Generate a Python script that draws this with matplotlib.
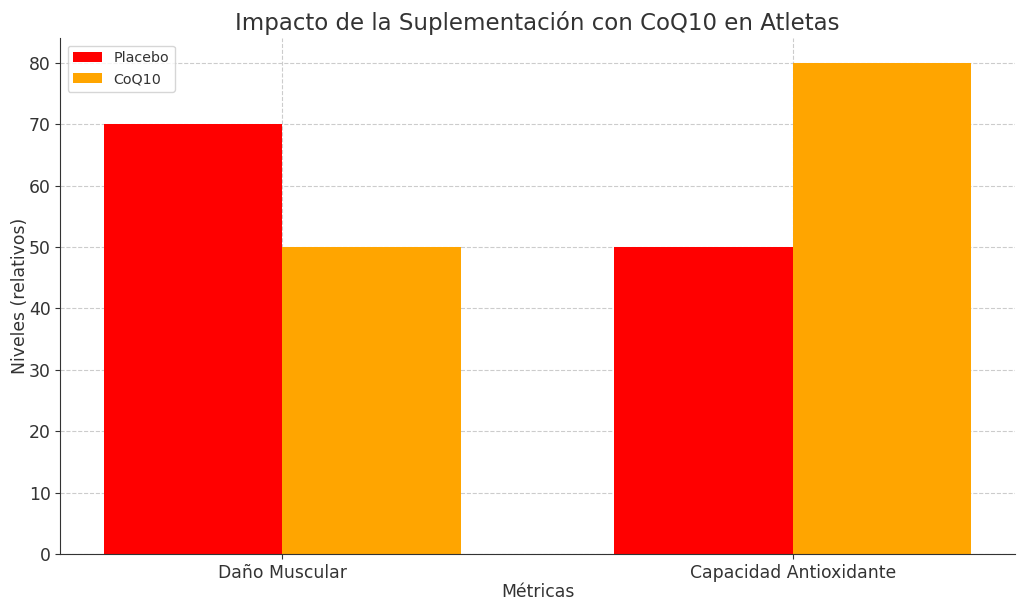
import matplotlib
matplotlib.use("Agg")
import matplotlib.pyplot as plt
import numpy as np

categories = ["Daño Muscular", "Capacidad Antioxidante"]
placebo = [70, 50]
coq10 = [50, 80]

plt.rcParams['font.family'] = ['DejaVu Sans']
text_color = '#333333'

fig, ax = plt.subplots(figsize=(10.24, 6.1), dpi=100)
x = np.arange(len(categories))
w = 0.35
ax.bar(x - w/2, placebo, w, color='red', label='Placebo', zorder=2)
ax.bar(x + w/2, coq10, w, color='orange', label='CoQ10', zorder=2)

ax.set_xticks(x)
ax.set_xticklabels(categories, fontsize=12.4, color=text_color)
ax.tick_params(axis='y', labelsize=12.4, labelcolor=text_color)
ax.set_xlabel('Métricas', fontsize=12.4, color=text_color, labelpad=1)
ax.set_ylabel('Niveles (relativos)', fontsize=12.4, color=text_color, labelpad=0)
ax.set_title('Impacto de la Suplementación con CoQ10 en Atletas', fontsize=16.5, color=text_color)
ax.grid(True, linestyle='--', color='#cccccc', linewidth=0.8, zorder=0)
ax.set_axisbelow(True)
for s in ['top', 'right']:
    ax.spines[s].set_visible(False)
for s in ['left', 'bottom']:
    ax.spines[s].set_color('#333333')
ax.tick_params(colors='#333333')
leg = ax.legend(loc='upper left', fontsize=10.3)
for t in leg.get_texts():
    t.set_color(text_color)

fig.subplots_adjust(left=0.059, right=0.991, top=0.937, bottom=0.092)
fig.savefig('out.png', dpi=100)
